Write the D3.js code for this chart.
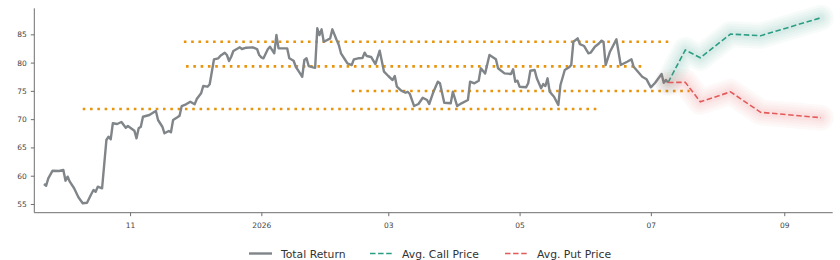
<!DOCTYPE html>
<html>
<head>
<meta charset="utf-8">
<script src="https://cdn.jsdelivr.net/npm/d3@7"></script>
<style>
  body { margin: 0; background: #fff; }
  svg { display: block; font-family: "DejaVu Sans", sans-serif; }
</style>
</head>
<body>
<div id="chart"></div>
<script>
/* ---- data ---- */
const trDates = [
  "2025-09-22","2025-09-23","2025-09-24","2025-09-26","2025-09-29","2025-10-01","2025-10-02","2025-10-03","2025-10-04","2025-10-06",
  "2025-10-08","2025-10-10","2025-10-12","2025-10-14","2025-10-15","2025-10-16","2025-10-17","2025-10-19","2025-10-21","2025-10-22",
  "2025-10-23","2025-10-24","2025-10-26","2025-10-28","2025-10-30","2025-10-31","2025-11-03","2025-11-04","2025-11-05","2025-11-06",
  "2025-11-07","2025-11-10","2025-11-12","2025-11-13","2025-11-14","2025-11-16","2025-11-17","2025-11-19","2025-11-20","2025-11-21",
  "2025-11-23","2025-11-24","2025-11-25","2025-11-27","2025-11-29","2025-12-01","2025-12-02","2025-12-04","2025-12-05","2025-12-07",
  "2025-12-08","2025-12-10","2025-12-12","2025-12-13","2025-12-15","2025-12-16","2025-12-17","2025-12-18","2025-12-19","2025-12-22",
  "2025-12-23","2025-12-25","2025-12-28","2025-12-30","2025-12-31","2026-01-01","2026-01-02","2026-01-04","2026-01-05","2026-01-07",
  "2026-01-08","2026-01-09","2026-01-10","2026-01-13","2026-01-14","2026-01-16","2026-01-17","2026-01-19","2026-01-20","2026-01-21",
  "2026-01-22","2026-01-23","2026-01-25","2026-01-26","2026-01-27","2026-01-28","2026-01-29","2026-01-30","2026-01-31","2026-02-02",
  "2026-02-03","2026-02-05","2026-02-06","2026-02-07","2026-02-09","2026-02-10","2026-02-12","2026-02-13","2026-02-15","2026-02-17",
  "2026-02-18","2026-02-19","2026-02-21","2026-02-23","2026-02-25","2026-02-27","2026-03-01","2026-03-03","2026-03-04","2026-03-05",
  "2026-03-07","2026-03-09","2026-03-10","2026-03-11","2026-03-13","2026-03-15","2026-03-17","2026-03-19","2026-03-20","2026-03-22",
  "2026-03-24","2026-03-25","2026-03-27","2026-03-30","2026-03-31","2026-04-02","2026-04-04","2026-04-07","2026-04-08","2026-04-10",
  "2026-04-12","2026-04-13","2026-04-15","2026-04-17","2026-04-20","2026-04-21","2026-04-22","2026-04-24","2026-04-27","2026-04-28",
  "2026-04-29","2026-04-30","2026-05-01","2026-05-04","2026-05-05","2026-05-06","2026-05-08","2026-05-09","2026-05-11","2026-05-12",
  "2026-05-13","2026-05-14","2026-05-15","2026-05-17","2026-05-19","2026-05-20","2026-05-22","2026-05-24","2026-05-25","2026-05-26",
  "2026-05-28","2026-05-29","2026-05-31","2026-06-02","2026-06-03","2026-06-05","2026-06-07","2026-06-08","2026-06-09","2026-06-10",
  "2026-06-12","2026-06-15","2026-06-17","2026-06-20","2026-06-22","2026-06-23","2026-06-25","2026-06-27","2026-06-29","2026-07-01",
  "2026-07-03","2026-07-06","2026-07-07","2026-07-08","2026-07-09"
];
const trValues = [
  58.54,58.23,59.54,60.89,60.83,61.01,59.12,59.83,58.94,57.78,
  56.18,55.12,55.23,56.77,57.47,57.17,58.06,57.78,66.31,66.90,
  66.44,69.27,69.14,69.50,68.49,68.79,67.96,66.61,68.38,68.66,
  70.43,70.73,71.21,71.44,69.85,68.66,67.50,67.90,67.67,69.85,
  70.33,70.61,72.32,72.62,73.08,72.62,73.56,74.57,75.86,75.74,
  76.16,80.58,80.76,81.22,81.75,81.34,80.28,81.04,82.05,82.70,
  82.40,82.63,82.70,82.40,81.34,80.93,80.76,82.35,82.81,81.64,
  84.87,82.52,82.52,82.52,80.76,80.33,79.27,78.10,77.50,80.46,
  80.76,79.39,79.16,79.09,86.06,84.87,85.88,83.69,83.87,84.29,
  85.88,83.99,83.11,81.64,80.46,79.87,79.57,80.58,80.76,80.81,
  81.75,81.16,80.99,79.75,82.10,78.39,77.63,76.92,77.63,75.74,
  75.03,74.67,74.85,74.45,72.32,72.68,73.79,73.39,72.68,74.85,
  76.62,76.34,72.91,72.80,74.85,72.32,72.80,73.38,76.62,76.34,
  76.80,78.99,78.07,81.34,80.58,78.99,78.69,78.10,77.98,78.81,
  76.62,76.80,75.74,75.63,76.34,78.56,78.69,77.22,75.45,76.21,
  75.86,77.22,74.85,73.97,72.50,76.04,78.69,79.16,79.57,83.69,
  84.29,83.28,82.93,81.64,81.75,82.81,83.41,83.87,83.69,79.57,
  81.92,84.11,79.57,80.15,80.58,79.27,78.39,77.50,77.04,75.63,
  76.44,77.98,76.44,76.92,76.48
];

const fcDates = ["2026-07-09","2026-07-17","2026-07-24","2026-08-07","2026-08-21","2026-09-18"];
const callValues = [76.48, 82.22, 80.86, 85.05, 84.75, 87.93];
const putValues = [76.48, 76.51, 73.06, 74.83, 71.21, 70.26];

const levelValues = [83.69, 79.34, 74.98, 71.79];
const levelStarts = ["2025-11-26", "2025-11-27", "2026-02-12", "2025-10-10"];
const levelEnds = ["2026-07-11", "2026-06-28", "2026-07-19", "2026-06-07"];

const yTicks = [55, 60, 65, 70, 75, 80, 85];
const legendLabels = ["Total Return", "Avg. Call Price", "Avg. Put Price"];

/* ---- drawing ---- */
const W = 840, H = 260;
const COL_TR = "#808589", COL_CALL = "#2a9d85", COL_PUT = "#e35a5a", COL_LVL = "#e8940c";
const parse = d3.timeParse("%Y-%m-%d");

const svg = d3.select("#chart").append("svg")
  .attr("width", W).attr("height", H);

const x = d3.scaleTime()
  .domain([new Date(2025, 8, 17, 12), new Date(2026, 8, 23, 12)])
  .range([34.3, 832.7]);
const y = d3.scaleLinear()
  .domain([53.46, 89.6])
  .range([212.7, 8.3]);

const line = d3.line().x(d => x(d.date)).y(d => y(d.value));

const tr = trDates.map((d, i) => ({ date: parse(d), value: trValues[i] }));
const calls = fcDates.map((d, i) => ({ date: parse(d), value: callValues[i] }));
const puts = fcDates.map((d, i) => ({ date: parse(d), value: putValues[i] }));

// support / resistance levels
levelValues.forEach((v, i) => {
  svg.append("line")
    .attr("x1", x(parse(levelStarts[i]))).attr("x2", x(parse(levelEnds[i])))
    .attr("y1", y(v)).attr("y2", y(v))
    .attr("stroke", COL_LVL).attr("stroke-width", 2.6)
    .attr("stroke-dasharray", "2.6,4.7");
});

// total return
svg.append("path").datum(tr)
  .attr("d", line)
  .attr("fill", "none").attr("stroke", COL_TR)
  .attr("stroke-width", 2.4).attr("stroke-linejoin", "round");

// forecast lines with glow
[[calls, COL_CALL], [puts, COL_PUT]].forEach(([data, col]) => {
  [26, 21, 16, 11, 7].forEach(w => {
    svg.append("path").datum(data)
      .attr("d", line)
      .attr("fill", "none").attr("stroke", col)
      .attr("stroke-opacity", 0.04).attr("stroke-width", w)
      .attr("stroke-linejoin", "round").attr("stroke-linecap", "round");
  });
  svg.append("path").datum(data)
    .attr("d", line)
    .attr("fill", "none").attr("stroke", col)
    .attr("stroke-width", 1.6).attr("stroke-dasharray", "5.5,2.6");
});

// axes
const fmtTick = d => d.getMonth() === 0 ? d3.timeFormat("%Y")(d) : d3.timeFormat("%m")(d);
const xAxis = svg.append("g")
  .attr("transform", "translate(0,212.7)")
  .call(d3.axisBottom(x).ticks(d3.timeMonth.every(2)).tickFormat(fmtTick).tickSize(3.5).tickPadding(6));
const yAxis = svg.append("g")
  .attr("transform", "translate(34.3,0)")
  .call(d3.axisLeft(y).tickValues(yTicks).tickSize(3.5).tickPadding(4));

[xAxis, yAxis].forEach(g => {
  g.select(".domain").attr("stroke", "#6e6e6e").attr("stroke-width", 1);
  g.selectAll(".tick line").attr("stroke", "#6e6e6e");
  g.selectAll("text").attr("fill", "#444").attr("font-size", 7.5)
    .attr("font-family", "DejaVu Sans, sans-serif");
});
yAxis.select(".domain").attr("d", "M0,212.7V8.3");
xAxis.select(".domain").attr("d", "M34.3,0H832.7");

// legend
const legendItems = [
  { x: 249, col: COL_TR, dash: null, w: 2.4 },
  { x: 370, col: COL_CALL, dash: "5.5,2.6", w: 1.6 },
  { x: 505, col: COL_PUT, dash: "5.5,2.6", w: 1.6 }
];
const legend = svg.append("g");
legendItems.forEach((it, i) => {
  legend.append("line")
    .attr("x1", it.x).attr("x2", it.x + 23)
    .attr("y1", 253.5).attr("y2", 253.5)
    .attr("stroke", it.col).attr("stroke-width", it.w)
    .attr("stroke-dasharray", it.dash);
  legend.append("text")
    .attr("x", it.x + 32).attr("y", 257.5)
    .attr("font-size", 10.8).attr("fill", "#333")
    .text(legendLabels[i]);
});
</script>
</body>
</html>
